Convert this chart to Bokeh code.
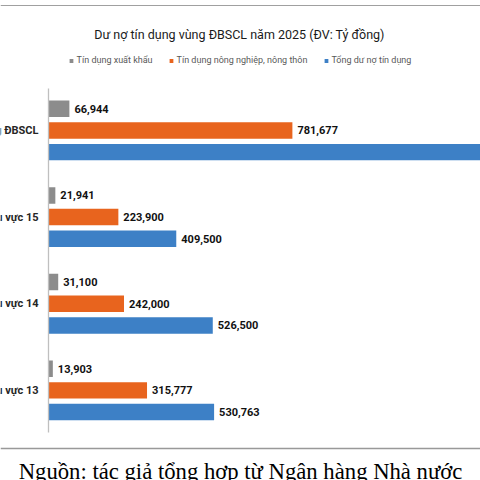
from bokeh.plotting import figure
from bokeh.models import Range1d, Legend, LegendItem, Label, Span, ColumnDataSource
from bokeh.core.properties import value
from bokeh.embed import file_html
from bokeh.resources import INLINE

# ---------------- data ----------------
title_text = "Dư nợ tín dụng vùng ĐBSCL năm 2025 (ĐV: Tỷ đồng)"
source_text = "Nguồn: tác giả tổng hợp từ Ngân hàng Nhà nước"
categories = ["Vùng ĐBSCL", "Khu vực 15", "Khu vực 14", "Khu vực 13"]
series_names = ["Tín dụng xuất khẩu", "Tín dụng nông nghiệp, nông thôn", "Tổng dư nợ tín dụng"]
xuat_khau = [66944, 21941, 31100, 13903]
nong_nghiep = [781677, 223900, 242000, 315777]
tong_du_no = [1466763, 409500, 526500, 530763]
series_colors = ["#8C8C8C", "#E8641E", "#3D80C6"]

# ---------------- geometry ----------------
W = H = 480
PITCH = 21.66      # px per bar slot (3 bars + 1 gap per group)
UPP = 3205.0       # value units per px
LEFT = 48          # px from figure left edge to value 0
TOP_SLOT = 108.3   # px from figure top to first bar centre
BAR_H = 0.76
AXPAD = 0.94

y_end = TOP_SLOT / PITCH
y_start = y_end - H / PITCH
x_start = -LEFT * UPP
x_end = x_start + W * UPP


def py(pix_y):
    return y_end - pix_y / PITCH


def px(pix_x):
    return (pix_x - LEFT) * UPP


FONT = "Roboto"

p = figure(width=W, height=H, x_range=Range1d(x_start, x_end), y_range=Range1d(y_start, y_end),
           x_axis_location=None, y_axis_location=None, toolbar_location=None,
           output_backend="svg", min_border=0, outline_line_color=None,
           background_fill_color="white", border_fill_color="white")
p.grid.visible = False

n_series = len(series_names)
slots = n_series + 1
renderers = []
for j, (name, vals, col) in enumerate(zip(series_names, [xuat_khau, nong_nghiep, tong_du_no], series_colors)):
    ys = [-(slots * i + j) for i in range(len(categories))]
    # labels of bars running past the visible area are off-canvas, as in the original
    lbls = [f"{v:,}" if v < x_end else "" for v in vals]
    src = ColumnDataSource(dict(y=ys, v=vals, lbl=lbls))
    r = p.hbar(y="y", left=0, right="v", height=BAR_H, source=src,
               fill_color=col, line_color=None)
    renderers.append((name, r))
    p.text(x="v", y="y", text="lbl", source=src, x_offset=5,
           text_align="left", text_baseline="middle",
           text_font=value(FONT), text_font_size="11px", text_font_style="bold",
           text_color="#111111")

# vertical axis line
last = -(slots * (len(categories) - 1) + n_series - 1)
p.segment(x0=[0], y0=[AXPAD], x1=[0], y1=[last - AXPAD], line_color="#bfbfbf", line_width=1.3)

# category labels (aligned with middle bar of each group)
p.text(x=[0] * len(categories), y=[-(slots * i + 1) for i in range(len(categories))],
       text=categories, x_offset=-10, text_align="right", text_baseline="middle",
       text_font=value(FONT), text_font_size="11px", text_font_style="bold",
       text_color="#262626")

# title
p.add_layout(Label(x=px(239), y=py(33.5), text=title_text, text_align="center",
                   text_baseline="alphabetic", text_font=FONT, text_font_size="12.5px",
                   text_color="#1a1a1a"))

# legend
legend = Legend(items=[LegendItem(label=n, renderers=[r]) for n, r in renderers],
                orientation="horizontal", location="top_center", margin=55, padding=0,
                spacing=16, glyph_width=5, glyph_height=5, label_standoff=3,
                label_height=10, label_text_font=FONT, label_text_font_size="9px",
                label_text_color="#595959", background_fill_alpha=0,
                border_line_color=None)
p.add_layout(legend)

# separator lines and source caption
p.add_layout(Span(location=py(5), dimension="width", line_color="#a0a0a0", line_width=1))
p.add_layout(Span(location=py(448), dimension="width", line_color="#999999", line_width=1.5))
p.add_layout(Label(x=px(240), y=py(471), text=source_text, text_align="center",
                   text_baseline="alphabetic", text_font="Liberation Serif",
                   text_font_size="22.7px", text_color="#000000"))

open("out.html", "w").write(file_html(p, INLINE))
